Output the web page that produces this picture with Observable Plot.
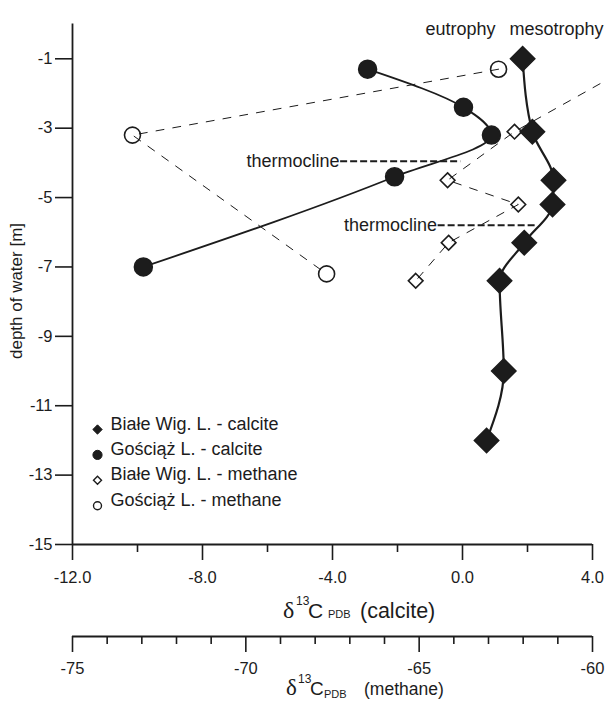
<!DOCTYPE html>
<html><head><meta charset="utf-8">
<script src="https://cdn.jsdelivr.net/npm/d3@7"></script>
<script src="https://cdn.jsdelivr.net/npm/@observablehq/plot@0.6"></script>
<style>
html,body{margin:0;padding:0;background:#fff;overflow:hidden;}
#chart svg{overflow:hidden;display:block;}
</style></head><body><div id="chart"></div>
<script>
// ---- data ----
const bialeCalciteDepth = [-1.0, -3.1, -4.5, -5.2, -6.3, -7.4, -10.0, -12.0];
const bialeCalciteD13C  = [1.85, 2.15, 2.8, 2.77, 1.9, 1.14, 1.27, 0.74];
const gosciazCalciteDepth = [-1.3, -2.4, -3.2, -4.4, -7.0];
const gosciazCalciteD13C  = [-2.92, 0.03, 0.89, -2.09, -9.82];
const bialeMethaneDepth = [-1.0, -3.1, -4.5, -5.2, -6.3, -7.4];
const bialeMethaneD13C  = [-58.5, -62.25, -64.18, -62.14, -64.15, -65.1];
const gosciazMethaneDepth = [-1.3, -3.2, -7.2];
const gosciazMethaneD13C  = [-62.71, -73.27, -67.67];

const depthTicks = [-1, -3, -5, -7, -9, -11, -13, -15];
const calciteMajorTicks = [-12, -8, -4, 0, 4];
const calciteMinorTicks = [-10, -6, -2, 2];
const methaneMajorTicks = [-75, -70, -65, -60];
const methaneMinorTicks = [-74, -73, -72, -71, -69, -68, -67, -66, -64, -63, -62, -61];

const thermoclineDepth = [-3.95, -5.8];
const thermoclineFrom  = [-3.75, -0.75];
const thermoclineTo    = [-0.05, 2.3];

const legendLabels = ["Białe Wig. L. - calcite", "Gościąż L. - calcite", "Białe Wig. L. - methane", "Gościąż L. - methane"];
const trophyLabels = ["eutrophy", "mesotrophy"];

// ---- helpers ----
const calciteDomain = [-12, 4];
const methaneDomain = [-75, -60];
const m2x = m => calciteDomain[0] + (m - methaneDomain[0]) * (calciteDomain[1] - calciteDomain[0]) / (methaneDomain[1] - methaneDomain[0]);
const x2m = x => methaneDomain[0] + (x - calciteDomain[0]) * (methaneDomain[1] - methaneDomain[0]) / (calciteDomain[1] - calciteDomain[0]);
const rows = (depths, vals, f = v => v) => depths.map((depth, i) => ({depth, x: f(vals[i])}));

const bialeCalcite = rows(bialeCalciteDepth, bialeCalciteD13C);
const gosciazCalcite = rows(gosciazCalciteDepth, gosciazCalciteD13C);
const bialeMethane = rows(bialeMethaneDepth, bialeMethaneD13C, m2x);
const gosciazMethane = rows(gosciazMethaneDepth, gosciazMethaneD13C, m2x);
const thermo = thermoclineDepth.map((y, i) => ({y, x1: thermoclineFrom[i], x2: thermoclineTo[i]}));

const INK = "#1c1c1c";
const W = 607, H = 702, mTop = 23.6, mLeft = 72, mRight = 15, mBottom = 158;
const methaneAxisOffset = 92;

const legendStyles = [
  {symbol: "diamond2", r: 4.2, fill: INK, stroke: INK, strokeWidth: 1},
  {symbol: "circle", r: 4.6, fill: INK, stroke: INK, strokeWidth: 1},
  {symbol: "diamond2", r: 3.6, fill: "white", stroke: INK, strokeWidth: 1.4},
  {symbol: "circle", r: 4.0, fill: "white", stroke: INK, strokeWidth: 1.4}
];
const legendMarks = legendLabels.flatMap((label, i) => [
  Plot.dot([label], {frameAnchor: "bottom-left", dx: 25, dy: -115 + i * 25.4, ...legendStyles[i]}),
  Plot.text([label], {frameAnchor: "bottom-left", dx: 38, dy: -115 + i * 25.4, text: d => d, textAnchor: "start", fontSize: 18, fill: INK})
]);

const plot = Plot.plot({
  width: W, height: H,
  marginTop: mTop, marginLeft: mLeft, marginRight: mRight, marginBottom: mBottom,
  x: {domain: calciteDomain},
  y: {domain: [-15, 0]},
  style: {fontFamily: "Arial, 'Liberation Sans', Helvetica, sans-serif", fontSize: "16.5px", color: INK, background: "white"},
  marks: [
    // axes lines
    Plot.ruleX([calciteDomain[0]], {stroke: INK, strokeWidth: 1.8}),
    Plot.ruleY([-15], {stroke: INK, strokeWidth: 1.8}),
    Plot.ruleY([-15], {stroke: INK, strokeWidth: 1.8, dy: methaneAxisOffset}),
    Plot.axisY({ticks: depthTicks, tickSize: 17, tickPadding: 3, tickFormat: d => String(d), label: null, strokeWidth: 1.6, fontSize: 16.5}),
    Plot.axisX({ticks: calciteMajorTicks, tickSize: 16, tickPadding: 11, tickFormat: d => d.toFixed(1), label: null, strokeWidth: 1.6, fontSize: 16.5}),
    Plot.axisX({ticks: calciteMinorTicks, tickSize: 8, tickFormat: () => "", label: null, strokeWidth: 1.6}),
    Plot.axisX({ticks: methaneMajorTicks.map(m2x), tickSize: 16, tickPadding: 10, dy: methaneAxisOffset, tickFormat: x => String(Math.round(x2m(x))), label: null, strokeWidth: 1.6, fontSize: 16.5}),
    Plot.axisX({ticks: methaneMinorTicks.map(m2x), tickSize: 8, dy: methaneAxisOffset, tickFormat: () => "", label: null, strokeWidth: 1.6}),

    // methane dashed profiles
    Plot.line(bialeMethane, {x: "x", y: "depth", stroke: INK, strokeWidth: 1, strokeDasharray: "8,9"}),
    Plot.line(gosciazMethane, {x: "x", y: "depth", stroke: INK, strokeWidth: 1, strokeDasharray: "8,9"}),
    // calcite smooth profiles
    Plot.line(bialeCalcite, {x: "x", y: "depth", curve: "monotone-y", stroke: INK, strokeWidth: 2.2}),
    Plot.line(gosciazCalcite, {x: "x", y: "depth", curve: "monotone-y", stroke: INK, strokeWidth: 1.8}),

    // thermocline markers
    Plot.ruleY(thermo, {y: "y", x1: "x1", x2: "x2", stroke: INK, strokeWidth: 2, strokeDasharray: "7,3"}),
    Plot.text(thermo, {x: "x1", y: "y", text: () => "thermocline", textAnchor: "end", dx: -1, fontSize: 18, fill: INK}),

    // symbols
    Plot.dot(bialeMethane, {x: "x", y: "depth", symbol: "diamond2", r: 6.6, fill: "none", stroke: INK, strokeWidth: 1.6}),
    Plot.dot(gosciazMethane, {x: "x", y: "depth", symbol: "circle", r: 8, fill: "none", stroke: INK, strokeWidth: 1.6}),
    Plot.dot(gosciazCalcite, {x: "x", y: "depth", symbol: "circle", r: 9, fill: INK, stroke: INK}),
    Plot.dot(bialeCalcite, {x: "x", y: "depth", symbol: "diamond2", r: 11, fill: INK, stroke: INK}),

    // trophy labels
    Plot.text([trophyLabels[0]], {frameAnchor: "top-left", dx: 388, dy: -2, text: d => d, textAnchor: "middle", fontSize: 18, fill: INK}),
    Plot.text([trophyLabels[1]], {frameAnchor: "top-left", dx: 484, dy: -2, text: d => d, textAnchor: "middle", fontSize: 18, fill: INK}),

    ...legendMarks
  ]
});

document.getElementById("chart").appendChild(plot);

// axis titles with super/subscripts, each part as its own text element
const svg = d3.select(plot);
const serif = "'Liberation Serif','DejaVu Serif',serif";
const sans = "Arial, 'Liberation Sans', sans-serif";
function part(str, x, y, size, family = sans) {
  svg.append("text").attr("x", x).attr("y", y).attr("fill", INK)
    .attr("text-anchor", "start")
    .style("font-family", family).style("font-size", size + "px").text(str);
}
// calcite title
part("δ", 283, 618, 24, serif);
part("13", 296, 605, 12);
part("C", 308, 618, 21);
part("PDB", 328, 618, 11);
part("(calcite)", 360, 618, 21.5);
// methane title
part("δ", 286, 695, 23, serif);
part("13", 298, 683, 12);
part("C", 310, 695, 19);
part("PDB", 324, 698, 11);
part("(methane)", 364, 695, 17.5);

// y-axis title
svg.append("text").attr("fill", INK).style("font-family", sans).style("font-size", "17px")
  .attr("text-anchor", "middle").attr("transform", "translate(22,291) rotate(-90)")
  .text("depth of water [m]");
</script></body></html>
